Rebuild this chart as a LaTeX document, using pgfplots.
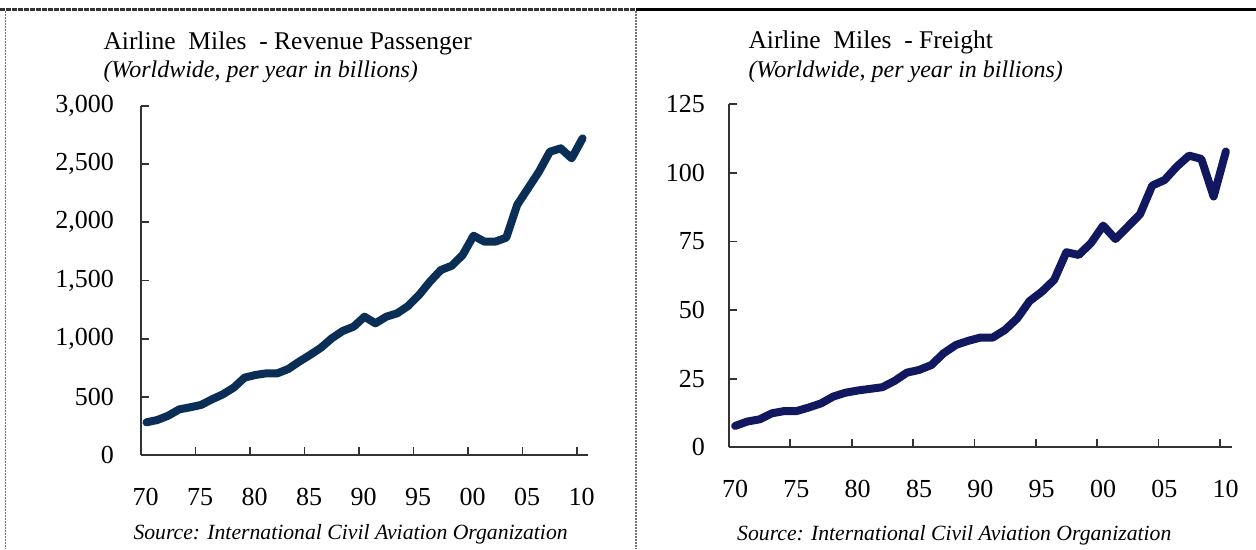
\documentclass[border=0pt]{standalone}
\usepackage{fontspec}
\setmainfont{Liberation Serif}
\usepackage{pgfplots}
\usepackage{pgfplotstable}
\pgfplotsset{compat=1.18}

\definecolor{passline}{RGB}{10,46,86}
\definecolor{freightline}{RGB}{18,24,96}
\definecolor{axisgray}{RGB}{50,50,50}

\pgfplotstableread{
year value
1970 281
1971 301
1972 338
1973 392
1974 410
1975 430
1976 478
1977 521
1978 579
1979 665
1980 688
1981 702
1982 702
1983 739
1984 802
1985 860
1986 922
1987 1003
1988 1066
1989 1103
1990 1189
1991 1132
1992 1189
1993 1218
1994 1281
1995 1375
1996 1490
1997 1590
1998 1627
1999 1719
2000 1885
2001 1834
2002 1834
2003 1868
2004 2149
2005 2292
2006 2435
2007 2607
2008 2636
2009 2550
2010 2722
}\passtable

\pgfplotstableread{
year value
1970 7.8
1971 9.4
1972 10.2
1973 12.4
1974 13.2
1975 13.2
1976 14.5
1977 16.0
1978 18.5
1979 19.9
1980 20.7
1981 21.3
1982 21.9
1983 24.2
1984 27.2
1985 28.2
1986 30.0
1987 34.3
1988 37.3
1989 38.8
1990 40.0
1991 40.0
1992 42.8
1993 47.0
1994 53.3
1995 56.7
1996 61.0
1997 71.1
1998 70.1
1999 74.4
2000 80.8
2001 75.9
2002 80.4
2003 84.9
2004 95.4
2005 97.4
2006 102.3
2007 106.3
2008 105.1
2009 91.4
2010 107.8
}\freighttable

\pgfplotsset{
  myaxis/.style={
    scale only axis, anchor=south west, clip=false,
    axis x line=bottom, axis y line=left,
    axis line style={-, draw=axisgray, line width=1.7pt},
    x axis line style={-}, y axis line style={-},
    every tick/.style={draw=axisgray, line width=1.7pt},
    major tick length=8pt, tick align=inside,
    xmin=1969.5, xmax=2010.5, ymin=0,
    xtick={1969.5,1974.5,...,2009.5},
    xticklabels={70,75,80,85,90,95,00,05,10},
    xticklabel style={anchor=base, inner sep=0pt, yshift=-50pt},
    tick label style={font=\fontsize{26}{30}\selectfont, text=black},
    /pgf/number format/assume math mode=true,
    /pgf/number format/1000 sep={,},
    scaled y ticks=false,
  }
}

\begin{document}
\begin{tikzpicture}
\useasboundingbox (0pt,0pt) rectangle (1256pt,-549pt);
% frame lines
\draw[black!80, line width=3pt, dash pattern=on 5pt off 1pt] (0pt,-9.5pt) -- (636pt,-9.5pt);
\draw[black, line width=3pt] (636pt,-9.5pt) -- (1256pt,-9.5pt);
\draw[black!55, line width=1.6pt, dash pattern=on 2pt off 1pt] (5.5pt,-11pt) -- (5.5pt,-549pt);
\draw[black!55, line width=1.6pt, dash pattern=on 2pt off 1pt] (636pt,-11pt) -- (636pt,-549pt);

% left chart
\begin{axis}[myaxis, at={(141pt,-455pt)}, width=447pt, height=349pt,
  ymax=3000, ytick={0,500,...,3000},
  xticklabel style={xshift=4.5pt},
  yticklabel style={anchor=east, inner sep=0pt, xshift=-27pt}]
\addplot[passline, line width=8pt, line join=round, line cap=round] table[x=year, y=value] {\passtable};
\end{axis}

% right chart
\begin{axis}[myaxis, at={(729pt,-447.3pt)}, width=503pt, height=343pt,
  ymax=125, ytick={0,25,...,125},
  xticklabel style={xshift=6pt},
  yticklabel style={anchor=east, inner sep=0pt, xshift=-24pt}]
\addplot[freightline, line width=8pt, line join=round, line cap=round] table[x=year, y=value] {\freighttable};
\end{axis}

% titles
\node[anchor=base west, inner sep=0pt, font=\fontsize{25.5}{30}\selectfont] at (103.3pt,-49pt) {Airline\ \ Miles\ \ - Revenue Passenger};
\node[anchor=base west, inner sep=0pt, font=\fontsize{24}{29}\selectfont\itshape] at (103.3pt,-77pt) {(Worldwide, per year in billions)};
\node[anchor=base west, inner sep=0pt, font=\fontsize{25.5}{30}\selectfont] at (748.3pt,-48.5pt) {Airline\ \ Miles\ \ - Freight};
\node[anchor=base west, inner sep=0pt, font=\fontsize{24}{29}\selectfont\itshape] at (748.3pt,-77pt) {(Worldwide, per year in billions)};
% sources
\node[anchor=base west, inner sep=0pt, font=\fontsize{21.7}{26}\selectfont\itshape] at (133.3pt,-539.3pt) {Source: International Civil Aviation Organization};
\node[anchor=base west, inner sep=0pt, font=\fontsize{21.7}{26}\selectfont\itshape] at (737pt,-540pt) {Source: International Civil Aviation Organization};
\end{tikzpicture}
\end{document}
